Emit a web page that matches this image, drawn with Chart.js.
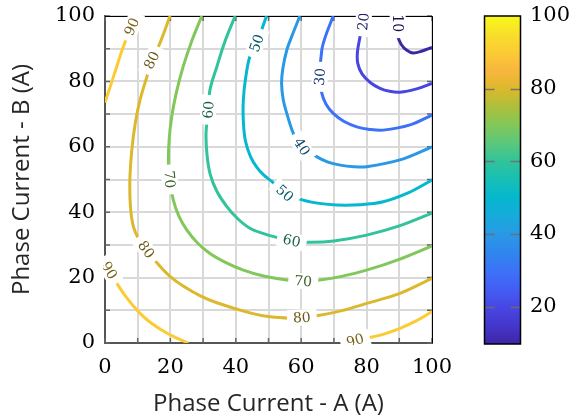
<!DOCTYPE html>
<html>
<head>
<meta charset="utf-8">
<script src="https://cdn.jsdelivr.net/npm/chart.js@4/dist/chart.umd.min.js"></script>
<style>
  html, body { margin: 0; padding: 0; background: #fff; }
  #wrap { width: 572px; height: 419px; }
</style>
</head>
<body>
<div id="wrap"><canvas id="c" width="572" height="419"></canvas></div>
<script>
// Iso-lines of the field over the two phase currents, one polyline per branch: [phase A, phase B]
const line10 = [[89.4,100],[89.4,96],[89.6,93.6],[90.6,91.3],[92.2,89.6],[94.2,88.7],[97,89.3],[100,90.4]];
const line20 = [[78.8,100],[78.4,96],[78,93.7],[77.2,89],[77.3,85.5],[78.6,82.3],[81.2,79.6],[84.1,77.9],[87,77],[90.2,76.7],[95.3,77.7],[100,79.4]];
const line30 = [[69.8,100],[67.5,94],[66.3,89.6],[65.7,81.4],[66.3,76.4],[67.6,73],[69.8,70.2],[73,67.8],[77,66.1],[81,65.3],[85.1,65.1],[93.3,66.7],[100,69.7]];
const line40 = [[59.6,100],[57.2,94],[55.6,89.6],[54.4,84],[54,79.4],[54.5,74.5],[55.6,70.2],[57.6,64.1],[60.2,60],[64.7,57],[68.2,55.3],[71.9,54.4],[76,53.9],[80,53.9],[90.2,56],[100,60]];
const line50 = [[49.4,100],[46.4,91.7],[44.3,87.6],[43,81],[42.3,74.3],[42.3,68],[42.9,62],[44.5,57],[46.5,53.6],[48.5,51.4],[51,49.4],[55,45.8],[60.6,43.7],[65.5,42.7],[70.8,42.2],[78,42.3],[85.1,43.2],[92.5,45.8],[100,49.8]];
const line60 = [[39.8,100],[36.6,92],[34.2,84.5],[32.1,77.4],[31.6,71.3],[30.9,64.1],[31.2,57.5],[32.2,51.5],[34.2,46.4],[37.2,41.8],[40.6,38],[44.3,35.1],[48.3,33.5],[52.5,32.3],[57.1,31.3],[62.7,30.8],[70,31.2],[80,33],[90,35.8],[100,39.7]];
const line70 = [[29.6,100],[26.4,92],[23.9,84.5],[21.8,76.5],[20.4,69.2],[19.6,62],[19.4,55],[19.8,50],[20.9,43.7],[22.6,38.8],[25,34.6],[28.3,30.6],[32.1,27.4],[37,24.6],[42.3,22.3],[48.5,20.5],[55.6,19.3],[60.6,18.9],[65.7,19.3],[72,20.3],[80,22.3],[90,25.6],[100,29.7]];
const line80 = [[19.9,100],[16.8,91.7],[14.3,86.5],[12.8,81.4],[10.7,74.3],[9.3,67.5],[8.2,59],[7.6,49.8],[7.8,41.5],[8.7,35.5],[10.4,31.6],[12.6,28.6],[15.8,24.6],[19.6,20.6],[23.9,17.4],[29,14.5],[34.2,12.3],[44.3,9.2],[50.5,8],[56.6,7.6],[60.2,7.8],[65.7,8.5],[72.5,9.9],[80,12.1],[90.2,15.2],[100,19.8]];
const line90a = [[0,73.5],[1.6,78.4],[3.1,83],[5.6,90.6],[8.2,96.7],[9.6,100]];
const line90b = [[0,24.4],[1.3,22.2],[3.3,18.8],[6.5,14],[10.2,9.6],[13.6,6.5],[17.3,4],[21.3,1.8],[25.5,0]];
const line90c = [[73.5,0],[76.5,0.8],[81,1.7],[85.5,2.8],[90.2,4.5],[95,6.7],[100,9.6]];

const lineLevels = [10, 20, 30, 40, 50, 60, 70, 80, 90, 90, 90];
const lineBranches = [line10, line20, line30, line40, line50, line60, line70, line80, line90a, line90b, line90c];

// Inline level labels: level, and where it sits on its line
const labelLevels = [10, 20, 30, 40, 50, 50, 60, 60, 70, 70, 80, 80, 80, 90, 90, 90];
const labelA =      [89.5, 79, 65.7, 60.2, 46.4, 55, 31.6, 57.1, 19.8, 60.6, 14.3, 12.6, 60.2, 8.2, 1.3, 76.5];
const labelB =      [97.8, 98.3, 81.4, 60, 91.7, 45.8, 71.3, 31.3, 50, 18.9, 86.5, 28.6, 7.8, 96.7, 22.2, 0.8];

// Axes
const gridValues = [0, 10, 20, 30, 40, 50, 60, 70, 80, 90, 100];
const tickValues = [0, 20, 40, 60, 80, 100];
const tickLabels = ['0', '20', '40', '60', '80', '100'];
const colorMin = 10;
const colorMax = 100;
const colorbarTickValues = [20, 40, 60, 80, 100];
const colorbarTickLabels = ['20', '40', '60', '80', '100'];
const xTitle = 'Phase Current - A (A)';
const yTitle = 'Phase Current - B (A)';

// Colormap (value -> colour)
const cmapStops = [
  [10, '#3d25a4'], [15, '#4536cc'], [20, '#4746e2'], [25, '#435ef5'], [30, '#3c72f7'],
  [35, '#2f86ee'], [40, '#2a98e6'], [45, '#17aadb'], [50, '#05b7cf'], [55, '#16bfb5'],
  [60, '#30c39c'], [65, '#5ac87c'], [70, '#82c75a'], [75, '#adbf3c'], [80, '#dcb92c'],
  [85, '#f7b63e'], [90, '#fccb34'], [95, '#f8df2a'], [100, '#f9f918']
];

function hexToRgb(h) {
  return [parseInt(h.slice(1, 3), 16), parseInt(h.slice(3, 5), 16), parseInt(h.slice(5, 7), 16)];
}
function colorAt(v, k = 1) {
  let i = 0;
  while (i < cmapStops.length - 2 && v > cmapStops[i + 1][0]) i++;
  const [v0, c0] = cmapStops[i], [v1, c1] = cmapStops[i + 1];
  const t = Math.max(0, Math.min(1, (v - v0) / (v1 - v0)));
  const a = hexToRgb(c0), b = hexToRgb(c1);
  const rgb = a.map((x, j) => Math.round((x + (b[j] - x) * t) * k));
  return `rgb(${rgb[0]},${rgb[1]},${rgb[2]})`;
}

const datasets = lineBranches.map((pts, i) => ({
  level: lineLevels[i],
  data: pts.map(([a, b]) => ({ x: a, y: b })),
  showLine: true,
  borderColor: colorAt(lineLevels[i]),
  borderWidth: 3,
  pointRadius: 0,
  pointHoverRadius: 0,
  tension: 0.35,
  fill: false
}));

// Top/right frame and inward tick marks
const frame = {
  id: 'frame',
  beforeDatasetsDraw(chart) {
    const { ctx, chartArea: a, scales: { x, y } } = chart;
    ctx.save();
    ctx.strokeStyle = '#666';
    ctx.lineWidth = 1.5;
    ctx.beginPath();
    gridValues.forEach(v => {
      const px = x.getPixelForValue(v), py = y.getPixelForValue(v);
      ctx.moveTo(px, a.bottom); ctx.lineTo(px, a.bottom - 5);
      ctx.moveTo(px, a.top); ctx.lineTo(px, a.top + 5);
      ctx.moveTo(a.left, py); ctx.lineTo(a.left + 5, py);
      ctx.moveTo(a.right, py); ctx.lineTo(a.right - 5, py);
    });
    ctx.stroke();
    ctx.strokeStyle = '#000';
    ctx.lineWidth = 1;
    ctx.beginPath();
    ctx.moveTo(a.left, a.top + 0.5); ctx.lineTo(a.right + 0.5, a.top + 0.5);
    ctx.lineTo(a.right + 0.5, a.bottom);
    ctx.stroke();
    ctx.restore();
  }
};

// Level labels written along their lines on a white patch
const contourLabels = {
  id: 'contourLabels',
  afterDatasetsDraw(chart) {
    const { ctx, chartArea: a, scales: { x, y } } = chart;
    ctx.save();
    ctx.beginPath();
    ctx.rect(a.left - 2, a.top - 2, a.right - a.left + 4, a.bottom - a.top + 4);
    ctx.clip();
    ctx.font = '14px "DejaVu Serif"';
    ctx.textAlign = 'center';
    ctx.textBaseline = 'middle';
    labelLevels.forEach((lv, i) => {
      const px = x.getPixelForValue(labelA[i]);
      const py = y.getPixelForValue(labelB[i]);
      let best = Infinity, ang = 0;
      chart.data.datasets.forEach((ds, di) => {
        if (ds.level !== lv) return;
        const pts = chart.getDatasetMeta(di).data;
        for (let k = 0; k < pts.length - 1; k++) {
          const p = pts[k], q = pts[k + 1];
          const dx = q.x - p.x, dy = q.y - p.y;
          const len2 = dx * dx + dy * dy || 1;
          const t = Math.max(0, Math.min(1, ((px - p.x) * dx + (py - p.y) * dy) / len2));
          const d = Math.hypot(p.x + t * dx - px, p.y + t * dy - py);
          if (d < best) { best = d; ang = Math.atan2(dy, dx); }
        }
      });
      if (ang > Math.PI / 2) ang -= Math.PI;
      if (ang <= -Math.PI / 2) ang += Math.PI;
      const text = String(lv);
      const w = ctx.measureText(text).width + 12, h = 16;
      ctx.save();
      ctx.translate(px, py);
      ctx.rotate(ang);
      ctx.fillStyle = '#fff';
      ctx.fillRect(-w / 2, -h / 2, w, h);
      ctx.fillStyle = colorAt(lv, 0.48);
      ctx.fillText(text, 0, 1);
      ctx.restore();
    });
    ctx.restore();
  }
};

// Colour scale bar, laid out on the 'cb' axis
const colorbar = {
  id: 'colorbar',
  afterDraw(chart) {
    const { ctx } = chart;
    const s = chart.scales.cb;
    const x0 = 484.5, w = 36;
    const top = s.getPixelForValue(colorMax), bot = s.getPixelForValue(colorMin) + 1;
    const g = ctx.createLinearGradient(0, bot, 0, top);
    cmapStops.forEach(([v, c]) => g.addColorStop((v - colorMin) / (colorMax - colorMin), c));
    ctx.save();
    ctx.fillStyle = g;
    ctx.fillRect(x0, top, w, bot - top);
    ctx.strokeStyle = 'rgba(110,110,110,0.9)';
    ctx.lineWidth = 1.5;
    ctx.beginPath();
    colorbarTickValues.forEach(v => {
      if (v >= colorMax) return;
      const py = Math.round(s.getPixelForValue(v)) + 0.5;
      ctx.moveTo(x0, py); ctx.lineTo(x0 + 10, py);
      ctx.moveTo(x0 + w - 10, py); ctx.lineTo(x0 + w, py);
    });
    ctx.stroke();
    ctx.strokeStyle = '#000';
    ctx.lineWidth = 1.5;
    ctx.strokeRect(x0, top, w, bot - top);
    ctx.restore();
  }
};

const tickFont = { family: '"DejaVu Serif"', size: 21 };
const titleFont = { family: '"Open Sans"', size: 24 };
const labelOf = (values, labels) => v => { const i = values.indexOf(v); return i < 0 ? '' : labels[i]; };

new Chart(document.getElementById('c'), {
  type: 'scatter',
  data: { datasets },
  options: {
    responsive: false,
    devicePixelRatio: 1,
    animation: false,
    events: [],
    layout: { padding: { left: 0, top: 16, right: 0, bottom: 0 } },
    plugins: { legend: { display: false }, tooltip: { enabled: false } },
    scales: {
      x: {
        type: 'linear', min: 0, max: 100,
        afterBuildTicks: s => { s.ticks = gridValues.map(v => ({ value: v })); },
        afterFit: s => { s.height = 76; },
        ticks: { autoSkip: false, maxRotation: 0, padding: 0, color: '#000', font: tickFont,
                 callback: labelOf(tickValues, tickLabels) },
        grid: { color: '#d9d9d9', lineWidth: 2, drawTicks: true, tickLength: 12, tickColor: 'rgba(0,0,0,0)' },
        border: { color: '#555', width: 2 },
        title: { display: true, text: xTitle, color: '#262626', font: titleFont, padding: { top: 0, bottom: 0 } }
      },
      y: {
        type: 'linear', min: 0, max: 100,
        afterBuildTicks: s => { s.ticks = gridValues.map(v => ({ value: v })); },
        afterFit: s => { s.width = 105; },
        ticks: { autoSkip: false, padding: 0, color: '#000', font: tickFont,
                 callback: labelOf(tickValues, tickLabels) },
        grid: { color: '#d9d9d9', lineWidth: 2, drawTicks: true, tickLength: 10, tickColor: 'rgba(0,0,0,0)' },
        border: { color: '#555', width: 2 },
        title: { display: true, text: yTitle, color: '#262626', font: titleFont, padding: { top: 8, bottom: 0 } }
      },
      cb: {
        type: 'linear', position: 'right', axis: 'y', min: colorMin, max: colorMax,
        afterBuildTicks: s => { s.ticks = colorbarTickValues.map(v => ({ value: v })); },
        afterFit: s => { s.width = 140; },
        ticks: { autoSkip: false, padding: 0, color: '#000', font: tickFont,
                 callback: labelOf(colorbarTickValues, colorbarTickLabels) },
        grid: { display: true, drawOnChartArea: false, drawTicks: true, tickLength: 98,
                color: 'rgba(0,0,0,0)', tickColor: 'rgba(0,0,0,0)' },
        border: { display: false }
      }
    }
  },
  plugins: [frame, contourLabels, colorbar]
});
</script>
</body>
</html>
